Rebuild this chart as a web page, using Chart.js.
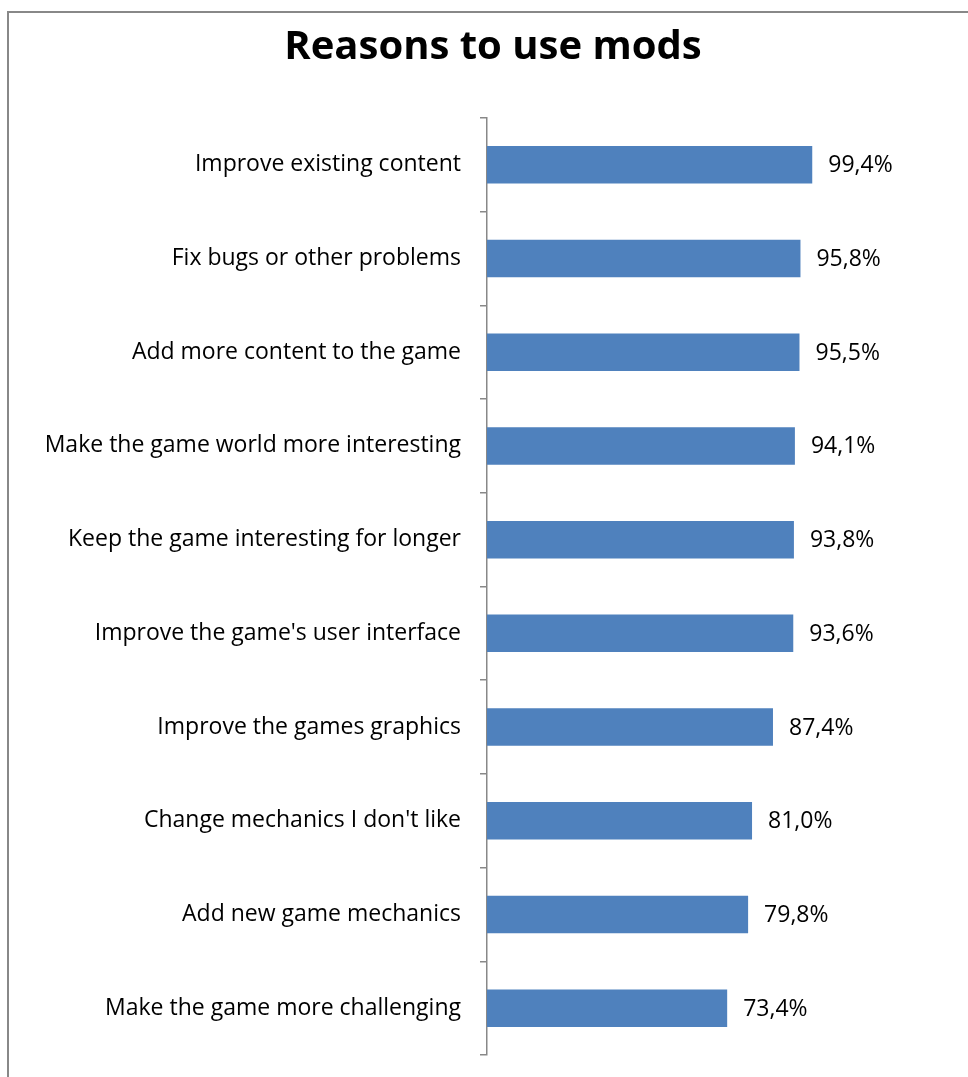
<!DOCTYPE html>
<html>
<head>
<meta charset="utf-8">
<script src="https://cdn.jsdelivr.net/npm/chart.js@4"></script>
<style>
  html, body { margin: 0; padding: 0; background: #fff; overflow: hidden; }
  #frame {
    position: absolute; left: 7px; top: 11px;
    width: 1100px; height: 1200px;
    border: 2px solid #888;
  }
  #wrap { position: absolute; left: 0; top: 0; width: 968px; height: 1077px; }
</style>
</head>
<body>
<div id="frame"></div>
<div id="wrap"><canvas id="chart" width="968" height="1077"></canvas></div>
<script>
  const categories = [
    "Improve existing content",
    "Fix bugs or other problems",
    "Add more content to the game",
    "Make the game world more interesting",
    "Keep the game interesting for longer",
    "Improve the game's user interface",
    "Improve the games graphics",
    "Change mechanics I don't like",
    "Add new game mechanics",
    "Make the game more challenging",
  ];
  const values = [99.4, 95.8, 95.5, 94.1, 93.8, 93.6, 87.4, 81.0, 79.8, 73.4];

  const fontFamily = "'Open Sans', sans-serif";

  // Prozent mit Komma
  const fmt = (v) => v.toFixed(1).replace(".", ",") + "%";

  const valueLabels = {
    id: "valueLabels",
    afterDatasetsDraw(chart) {
      const ctx = chart.ctx;
      const meta = chart.getDatasetMeta(0);
      ctx.save();
      ctx.font = `23px ${fontFamily}`;
      ctx.fillStyle = "#000";
      ctx.textBaseline = "middle";
      ctx.textAlign = "left";
      meta.data.forEach((bar, i) => {
        ctx.fillText(fmt(values[i]), bar.x + 16, bar.y + 1);
      });
      ctx.restore();
    },
  };

  new Chart(document.getElementById("chart"), {
    type: "bar",
    data: {
      labels: categories,
      datasets: [
        {
          data: values,
          backgroundColor: "#4F81BD",
          borderWidth: 0,
          categoryPercentage: 1,
          barPercentage: 0.4,
        },
      ],
    },
    options: {
      indexAxis: "y",
      responsive: false,
      animation: false,
      layout: { padding: { left: 18, right: 0, top: 0, bottom: 22 } },
      plugins: {
        legend: { display: false },
        tooltip: { enabled: false },
        title: {
          display: true,
          text: "Reasons to use mods",
          color: "#000",
          font: { family: fontFamily, size: 40, weight: "bold", lineHeight: 1.2 },
          padding: { top: 24, bottom: 46 },
        },
      },
      scales: {
        x: { display: false, min: 0, max: 147 },
        y: {
          afterFit(scale) {
            scale.width = 469;
            scale.paddingTop = 0;
            scale.paddingBottom = 0;
          },
          grid: {
            drawOnChartArea: false,
            tickLength: 7,
            color: "#888",
            lineWidth: 1.5,
          },
          border: { display: true, color: "#888", width: 1.5 },
          ticks: {
            color: "#000",
            padding: 19,
            font: { family: fontFamily, size: 23 },
          },
        },
      },
    },
    plugins: [valueLabels],
  });
</script>
</body>
</html>
